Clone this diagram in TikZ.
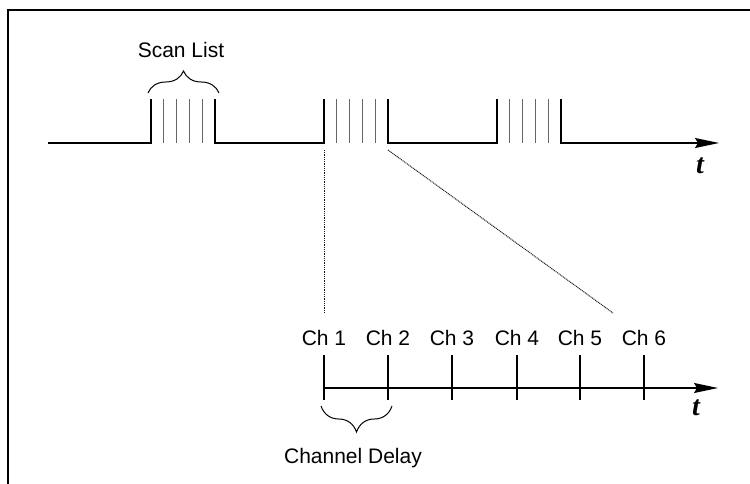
\documentclass[tikz,border=0pt]{standalone}
\usepackage{fontspec}
\setmainfont{Liberation Sans}
\newfontfamily\tfont{Liberation Serif}
\usetikzlibrary{arrows.meta,decorations.pathreplacing}
\begin{document}
\begin{tikzpicture}[x=1pt,y=-1pt,
  sig/.style={line width=1.2pt,black},
  innerline/.style={line width=1.1pt,black!60},
  dotline/.style={line width=1pt,black!90,dash pattern=on 1pt off 0.8pt},
  lbl/.style={font=\fontsize{21}{24}\selectfont,inner sep=0pt,anchor=base},
  tlbl/.style={font=\fontsize{28}{30}\selectfont\tfont\bfseries\itshape,inner sep=0pt},
  axarrow/.style={-{Stealth[length=24pt,width=10pt,inset=3pt]}},
  bracestyle/.style={line width=1pt,decorate}
]
\useasboundingbox (0,0) rectangle (750,484);
\draw[line width=1.3pt] (8,484) -- (8,10) -- (750,10);

% top timeline
\coordinate (s0) at (48,143);
\coordinate (s1) at (719,143);
\draw[sig,axarrow] (s0) -- (151,143) -- (151,99) (215,99) -- (215,143) -- (324,143) -- (324,99)
  (388,99) -- (388,143) -- (497,143) -- (497,99) (561,99) -- (561,143) -- (s1);
\foreach \x in {151,324,497}{
  \foreach \k in {1,...,4}{
    \draw[innerline] (\x+\k*12.8,99) -- (\x+\k*12.8,143);
  }
}
\node[tlbl] (t1) at (700,166) {t};

% Scan list brace
\coordinate (b1a) at (148,93);
\coordinate (b1b) at (219,93);
\draw[bracestyle,decoration={brace,amplitude=22pt}] (b1a) -- (b1b);
\node[lbl] (scan) at (181,58) {Scan List};

% dotted projection lines
\coordinate (d1a) at (324,150);
\coordinate (d1b) at (324,313);
\coordinate (d2a) at (388,150);
\coordinate (d2b) at (613,313);
\draw[dotline] (d1a) -- (d1b);
\draw[dotline] (d2a) -- (d2b);

% bottom axis
\coordinate (a0) at (324,388);
\coordinate (a1) at (718,388);
\draw[sig,axarrow] (a0) -- (a1);
\foreach \x/\n in {324/1,388/2,452/3,517/4,580/5,644/6}{
  \coordinate (tk\n a) at (\x,355);
  \coordinate (tk\n b) at (\x,400);
  \draw[line width=1.1pt] (tk\n a) -- (tk\n b);
  \node[lbl] (ch\n) at (\x,345.7) {Ch \n};
}
\node[tlbl] (t2) at (696,408) {t};

% channel delay brace
\coordinate (b2a) at (321,406);
\coordinate (b2b) at (392,406);
\draw[bracestyle,decoration={brace,mirror,amplitude=26pt}] (b2a) -- (b2b);
\node[lbl] (delay) at (353,463) {Channel Delay};
\end{tikzpicture}
\end{document}
